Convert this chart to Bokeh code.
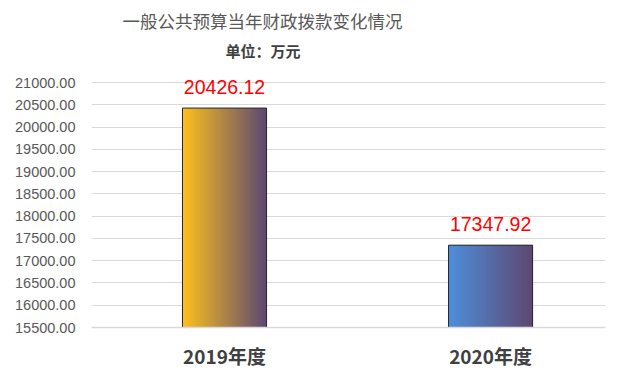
import numpy as np
from bokeh.plotting import figure
from bokeh.models import FixedTicker, NumeralTickFormatter, Label, ColumnDataSource, Range1d
from bokeh.embed import file_html
from bokeh.resources import INLINE
from bokeh.core.properties import value

# ---- data ----
categories = ["2019年度", "2020年度"]
values = [20426.12, 17347.92]
value_labels = ["20426.12", "17347.92"]
y_ticks = [15500, 16000, 16500, 17000, 17500, 18000, 18500, 19000, 19500, 20000, 20500, 21000]
title_text = "一般公共预算当年财政拨款变化情况"
subtitle_text = "单位：万元"

# gradient colours per bar (left -> right)
start_colors = [(252, 192, 30), (78, 142, 218)]
end_colors = [(94, 72, 114), (94, 72, 114)]

# ---- layout (pixels) ----
H = 377
FRAME_BOTTOM_PX = 327          # axis baseline (15500)
GRID_TOP_PX = 82               # 21000 gridline
Y0, Y1 = y_ticks[0], y_ticks[-1]
PX_PER_UNIT = (FRAME_BOTTOM_PX - GRID_TOP_PX) / (Y1 - Y0)
def y_at(px):
    return Y0 + (FRAME_BOTTOM_PX - px) / PX_PER_UNIT

BAR_W = 0.316
N_SLICES = 80

p = figure(width=640, height=H, output_backend="svg", toolbar_location=None,
           x_range=Range1d(-0.5, 1.432), y_range=Range1d(Y0, y_at(0)),
           min_border_left=91, min_border_right=35, min_border_bottom=H - FRAME_BOTTOM_PX,
           min_border_top=0,
           background_fill_color="white", border_fill_color="white")
p.outline_line_color = None

# gradient bars built from overlapping slices (no seams)
lefts, rights, tops, bottoms, cols = [], [], [], [], []
xs = list(range(len(categories)))
step = BAR_W / N_SLICES
for i, v in enumerate(values):
    x0 = xs[i] - BAR_W / 2
    x1 = xs[i] + BAR_W / 2
    for k in range(N_SLICES):
        t = k / (N_SLICES - 1)
        c = tuple(int(round(start_colors[i][j] + (end_colors[i][j] - start_colors[i][j]) * t)) for j in range(3))
        lefts.append(x0 + k * step)
        rights.append(min(x1, x0 + (k + 2.5) * step))
        tops.append(v)
        bottoms.append(Y0)
        cols.append("#%02x%02x%02x" % c)
src = ColumnDataSource(dict(left=lefts, right=rights, top=tops, bottom=bottoms, color=cols))
p.quad(left="left", right="right", top="top", bottom="bottom", fill_color="color",
       line_color=None, source=src)

# bar outlines
osrc = ColumnDataSource(dict(x=xs, top=values, label=value_labels))
p.vbar(x="x", top="top", bottom=Y0, width=BAR_W, fill_color=None, line_color="#262626",
       line_width=1, source=osrc)

# value labels
p.text(x="x", y="top", text="label", source=osrc, text_align="center", text_baseline="bottom",
       y_offset=-14, text_color="#ff0000", text_font_size="19.5px", text_font=value("Liberation Sans"))

# axes
p.yaxis.ticker = FixedTicker(ticks=y_ticks)
p.yaxis.formatter = NumeralTickFormatter(format="0.00")
p.yaxis.axis_line_color = None
p.yaxis.major_tick_line_color = None
p.yaxis.minor_tick_line_color = None
p.yaxis.major_label_standoff = 10
p.yaxis.major_label_text_font = "Liberation Sans"
p.yaxis.major_label_text_font_size = "14.5px"
p.yaxis.major_label_text_color = "#595959"

p.xaxis.ticker = FixedTicker(ticks=xs)
p.xaxis.major_label_overrides = {i: c for i, c in enumerate(categories)}
p.xaxis.axis_line_color = "#d9d9d9"
p.xaxis.axis_line_width = 1.5
p.xaxis.major_tick_line_color = None
p.xaxis.minor_tick_line_color = None
p.xaxis.major_label_standoff = 8
p.xaxis.major_label_text_font = "Noto Sans CJK SC"
p.xaxis.major_label_text_font_style = "bold"
p.xaxis.major_label_text_font_size = "19px"
p.xaxis.major_label_text_color = "#404040"

p.xgrid.grid_line_color = None
p.ygrid.ticker = FixedTicker(ticks=y_ticks)
p.ygrid.grid_line_color = "#d9d9d9"
p.ygrid.grid_line_width = 1

# titles
p.add_layout(Label(x=-0.5, y=y_at(20), x_offset=31, text=title_text,
                   text_align="left", text_baseline="middle", text_font_size="17.5px",
                   text_font="Noto Sans CJK SC", text_color="#595959"))
p.add_layout(Label(x=-0.5, y=y_at(50), x_offset=134, text=subtitle_text,
                   text_align="left", text_baseline="middle", text_font_size="15px",
                   text_font="Noto Sans CJK SC", text_font_style="bold", text_color="#404040"))

open("out.html", "w").write(file_html(p, INLINE))
